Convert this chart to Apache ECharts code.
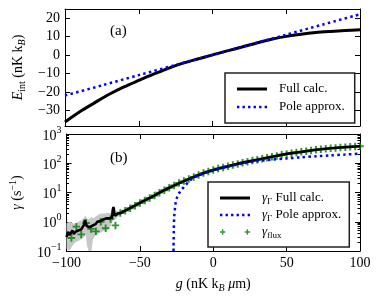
<!DOCTYPE html>
<html><head><meta charset="utf-8">
<script src="https://cdn.jsdelivr.net/npm/echarts@6/dist/echarts.min.js"></script>
<style>html,body{margin:0;padding:0;background:#fff}#c{width:380px;height:301px}</style>
</head><body><div id="c"></div>
<script>
// ---- tick labels ----
const xTicks = [-100, -50, 0, 50, 100];
const eTicks = [-30, -20, -10, 0, 10, 20];
const gamTicksMajor = [0.1, 1, 10, 100, 1000];
const gamTicksMinor = [0.2,0.3,0.4,0.5,0.6,0.7,0.8,0.9, 2,3,4,5,6,7,8,9, 20,30,40,50,60,70,80,90, 200,300,400,500,600,700,800,900];

// ---- panel (a): interaction energy ----
const gFullA = [-100,-90,-80,-70,-60,-50,-40,-30,-20,-10,0,10,20,30,40,50,60,70,80,90,100];
const eFullA = [-36.4,-30.8,-26.0,-21.3,-17.3,-13.8,-10.4,-7.2,-4.4,-2.1,0.1,2.3,4.4,6.6,8.6,10.2,11.4,12.3,12.9,13.4,13.8];
const gPoleA = [-100,-75,-50,-25,0,25,50,75,100];
const ePoleA = [-22.0,-16.5,-10.9,-5.4,0.1,5.6,11.1,16.7,22.2];

// ---- panel (b): decay rate ----
const gFullB = [-100,-99,-98,-97,-96,-95,-94,-93,-92,-91,-90,-89,-88,-87.5,-87,-86,-85,-84,-83,-82,-81,-80,-79,-78,-77,-76,-75,-74,-73,-72,-71,-70,-69,-68.5,-68,-67.5,-67,-66,-65,-64,-63,-58,-50,-45,-40,-35,-30,-25,-20,-15,-10,-5,0,5,10,20,30,40,50,60,70,80,90,100];
const gamFullB = [0.3,0.45,0.35,0.4,0.5,0.38,0.45,0.42,0.5,0.45,0.55,0.6,0.8,1.15,0.9,0.7,0.75,0.65,0.6,0.75,0.7,0.85,1.0,0.9,1.05,1.1,1.2,1.15,1.3,1.25,1.3,1.2,1.4,2.5,3.2,2.0,1.6,1.7,1.9,2.0,2.0,2.7,4.4,5.9,7.9,11,14.5,19,24.5,31.6,39.8,49,59,69,79,105,132,166,209,245,288,324,355,380];
const gPoleB = [-27.1,-26.9,-26.6,-26,-25.5,-24.5,-23.2,-21.5,-19.8,-17.5,-15.3,-12.5,-10,-5,0,10,20,30,40,50,60,70,80,90,100];
const gamPoleB = [0.1,0.5,1.5,3.2,4.9,7.2,9.6,12.8,16,21.5,27.5,33.5,39,48,57,77,98,118,134,146,160,173,186,199,212];
const gFlux = [-96.67,-93.33,-90,-86.67,-83.33,-80,-76.67,-73.33,-70,-66.67,-63.33,-60,-56.67,-53.33,-50,-46.67,-43.33,-40,-36.67,-33.33,-30,-26.67,-23.33,-20,-16.67,-13.33,-10,-6.67,-3.33,0,3.33,6.67,10,13.33,16.67,20,23.33,26.67,30,33.33,36.67,40,43.33,46.67,50,53.33,56.67,60,63.33,66.67,70,73.33,76.67,80,83.33,86.67,90,93.33,96.67,100];
const gamFlux = [0.28,0.68,0.37,0.9,0.57,0.47,1.0,0.6,1.25,0.75,2.0,2.4,2.9,3.55,4.4,5.3,6.5,7.9,9.9,12,14.5,17.4,21,24.5,29,34,40,46,52,59,66,72,79,87,95,105,112,123,132,142,155,166,178,195,209,219,234,245,257,275,288,302,313,324,335,347,355,363,372,380];
// uncertainty band of the full calculation (lower / upper)
const gBand = [-100,-98,-96,-94,-92,-90,-88,-87,-86,-85,-84,-83,-82,-81,-80,-78,-76,-74,-72,-70,-68,-66,-64,-62,-60];
const bandLow = [0.12,0.1,0.15,0.2,0.22,0.25,0.3,0.35,0.15,0.1,0.1,0.1,0.25,0.3,0.35,0.4,0.45,0.5,0.55,0.7,1.2,1.3,1.6,1.9,2.2];
const bandHigh = [0.9,1.0,0.9,0.85,1.0,1.1,1.4,1.6,1.3,1.2,1.3,1.5,1.3,1.4,1.5,1.8,1.9,1.9,2.0,2.0,3.5,2.3,2.4,2.5,2.6];

const FONT = "'Liberation Serif','DejaVu Serif',serif";
const zip = (a, b) => a.map((v, i) => [v, b[i]]);
const minus = v => (v < 0 ? '\u2212' : '') + Math.abs(v);

const tickStyle = {color: '#000', width: 1};
function xAx(grid, pos, labels) {
  return {
    type: 'value', gridIndex: grid, position: pos, min: -100, max: 100, interval: 50,
    axisLine: {show: true, onZero: false, lineStyle: {color: '#000', width: 1}},
    axisTick: {show: true, inside: true, length: 5, lineStyle: tickStyle, customValues: xTicks},
    axisLabel: {show: labels, customValues: xTicks, formatter: minus, fontFamily: FONT, fontSize: 14, color: '#000', margin: 5},
    splitLine: {show: false},
    name: labels ? '{i|g} (nK k{si|B} {i|\u03bc}m)' : '',
    nameLocation: 'middle', nameGap: 24,
    nameTextStyle: {fontFamily: FONT, fontSize: 14, color: '#000', lineHeight: 18,
      rich: {i: {fontFamily: FONT, fontSize: 14, fontStyle: 'italic', color: '#000'},
             si: {fontFamily: FONT, fontSize: 10, fontStyle: 'italic', verticalAlign: 'bottom', color: '#000'}}}
  };
}
function yLin(pos, labels) {
  return {
    type: 'value', gridIndex: 0, position: pos, min: -38.6, max: 25.1,
    axisLine: {show: true, onZero: false, lineStyle: {color: '#000', width: 1}},
    axisTick: {show: true, inside: true, length: 5, lineStyle: tickStyle, customValues: eTicks},
    axisLabel: {show: labels, customValues: eTicks,
      formatter: minus, fontFamily: FONT, fontSize: 14, color: '#000', margin: 5},
    splitLine: {show: false},
    name: labels ? '{i|E}{s|int} (nK k{si|B})' : '',
    nameLocation: 'middle', nameGap: 38, nameRotate: 90,
    nameTextStyle: {fontFamily: FONT, fontSize: 14, color: '#000', lineHeight: 18,
      rich: {i: {fontFamily: FONT, fontSize: 14, fontStyle: 'italic', color: '#000'},
             s: {fontFamily: FONT, fontSize: 10, verticalAlign: 'bottom', color: '#000'},
             si: {fontFamily: FONT, fontSize: 10, fontStyle: 'italic', verticalAlign: 'bottom', color: '#000'}}}
  };
}
function yLog(pos, labels, minor) {
  return {
    type: 'log', logBase: 10, gridIndex: 1, position: pos, min: 0.1, max: 1000,
    axisLine: {show: !minor, onZero: false, lineStyle: {color: '#000', width: 1}},
    axisTick: {show: true, inside: true, length: minor ? 2.5 : 5, lineStyle: tickStyle,
      customValues: minor ? gamTicksMinor : gamTicksMajor},
    axisLabel: {show: labels, customValues: gamTicksMajor,
      formatter: v => '{b|10}{s|' + minus(Math.round(Math.log10(v))) + '}',
      fontFamily: FONT, fontSize: 14, color: '#000', margin: 5, lineHeight: 18,
      rich: {b: {fontFamily: FONT, fontSize: 14, color: '#000', verticalAlign: 'bottom'},
             s: {fontFamily: FONT, fontSize: 10, color: '#000', verticalAlign: 'top'}}},
    splitLine: {show: false},
    name: labels ? '{i|\u03b3} (s{s|\u22121})' : '',
    nameLocation: 'middle', nameGap: 40, nameRotate: 90,
    nameTextStyle: {fontFamily: FONT, fontSize: 14, color: '#000', lineHeight: 18,
      rich: {i: {fontFamily: FONT, fontSize: 14, fontStyle: 'italic', color: '#000'},
             s: {fontFamily: FONT, fontSize: 10, verticalAlign: 'top', color: '#000'}}}
  };
}

const PLUS = 'path://M2.6,0H4.4V2.6H7V4.4H4.4V7H2.6V4.4H0V2.6H2.6Z';
const PLUS2 = 'path://M2.2,0H3.8V2.2H6V3.8H3.8V6H2.2V3.8H0V2.2H2.2Z M30.2,0H31.8V2.2H34V3.8H31.8V6H30.2V3.8H28V2.2H30.2Z';
const SOLID = 'path://M0,0H30V3H0Z';
const DOTS = 'path://M0,0h2.5v2.5h-2.5Z M5.8,0h2.5v2.5h-2.5Z M11.6,0h2.5v2.5h-2.5Z M17.4,0h2.5v2.5h-2.5Z M23.2,0h2.5v2.5h-2.5Z M29,0h2.5v2.5h-2.5Z';

const legendText = {fontFamily: FONT, fontSize: 13, color: '#000', padding: [0, 0, 0, 7], lineHeight: 16,
  rich: {g: {fontFamily: FONT, fontSize: 13, fontStyle: 'italic', color: '#000'},
         s: {fontFamily: FONT, fontSize: 9, color: '#000', verticalAlign: 'bottom'},
         t: {fontFamily: FONT, fontSize: 13, color: '#000'}}};
const legendNames = {gFull: '{g|\u03b3}{s|\u0393} {t|Full calc.}', gPole: '{g|\u03b3}{s|\u0393} {t|Pole approx.}', gFlux: '{g|\u03b3}{s|flux}'};

const chart = echarts.init(document.getElementById('c'), null, {renderer: 'canvas'});
chart.setOption({
  animation: false,
  backgroundColor: '#fff',
  grid: [
    {left: 65, right: 20, top: 9, height: 117, containLabel: false},
    {left: 65, right: 20, top: 134, height: 117, containLabel: false}
  ],
  xAxis: [xAx(0, 'bottom', false), xAx(0, 'top', false), xAx(1, 'bottom', true), xAx(1, 'top', false)],
  yAxis: [yLin('left', true), yLin('right', false), yLog('left', true, false), yLog('right', false, false),
          yLog('left', false, true), yLog('right', false, true)],
  legend: [
    {data: [{name: 'Full calc.', icon: SOLID}, {name: 'Pole approx.', icon: DOTS}], left: 225, top: 73, orient: 'vertical',
     itemWidth: 30, itemHeight: 14,
     itemGap: 2, padding: [8, 10, 8, 12], backgroundColor: '#fff', borderColor: '#222', borderWidth: 1.5,
     selectedMode: false, textStyle: legendText},
    {data: [{name: 'gFull', icon: SOLID}, {name: 'gPole', icon: DOTS}, {name: 'gFlux', icon: PLUS2}], left: 208, top: 182, orient: 'vertical',
     itemWidth: 30, itemHeight: 14, itemGap: 1, padding: [8, 8, 7, 12], backgroundColor: '#fff', borderColor: '#222',
     borderWidth: 1.5, selectedMode: false, textStyle: legendText, formatter: n => legendNames[n]}
  ],
  graphic: [
    {type: 'text', left: 110, top: 24, style: {text: '(a)', font: '15px ' + FONT, fill: '#000'}},
    {type: 'text', left: 110, top: 151, style: {text: '(b)', font: '15px ' + FONT, fill: '#000'}}
  ],
  series: [
    {type: 'line', name: 'Full calc.', xAxisIndex: 0, yAxisIndex: 0, data: zip(gFullA, eFullA), symbol: 'none',
     smooth: 0.3, lineStyle: {color: '#000', width: 3}, itemStyle: {color: '#000'}},
    {type: 'line', name: 'Pole approx.', xAxisIndex: 0, yAxisIndex: 0, data: zip(gPoleA, ePoleA), symbol: 'none',
     smooth: 0.3, lineStyle: {color: '#0000ff', width: 2.5, type: [2.5, 3.3]}, itemStyle: {color: '#0000ff'}},
    {type: 'custom', name: 'band', xAxisIndex: 2, yAxisIndex: 2, silent: true,
     data: gBand.map((g, i) => [g, bandLow[i], bandHigh[i]]),
     encode: {x: 0, y: [1, 2]},
     renderItem: (params, api) => {
       if (params.dataIndex !== 0) return null;
       const up = gBand.map((g, i) => api.coord([g, bandHigh[i]]));
       const lo = gBand.map((g, i) => api.coord([g, bandLow[i]])).reverse();
       return {type: 'polygon', shape: {points: up.concat(lo)}, style: {fill: '#c8c8c8', stroke: 'none'}};
     }},
    {type: 'line', name: 'gFull', xAxisIndex: 2, yAxisIndex: 2, data: zip(gFullB, gamFullB), symbol: 'none',
     lineStyle: {color: '#000', width: 2.6}, itemStyle: {color: '#000'}},
    {type: 'line', name: 'gPole', xAxisIndex: 2, yAxisIndex: 2, data: zip(gPoleB, gamPoleB), symbol: 'none',
     smooth: 0.3, lineStyle: {color: '#0000ff', width: 2.5, type: [2.5, 3.3]}, itemStyle: {color: '#0000ff'}},
    {type: 'scatter', name: 'gFlux', xAxisIndex: 2, yAxisIndex: 2, data: zip(gFlux, gamFlux), symbol: PLUS,
     symbolSize: 7.5, itemStyle: {color: '#007a00'}}
  ]
});
</script></body></html>
